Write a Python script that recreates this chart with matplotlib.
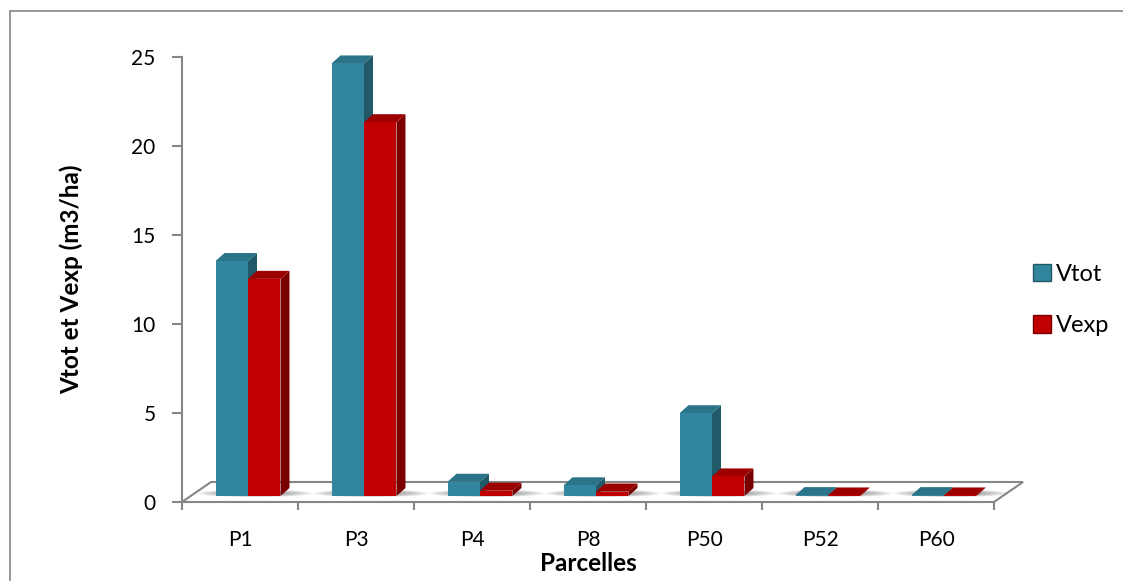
import matplotlib.pyplot as plt
from matplotlib.patches import Polygon, Rectangle, Ellipse

parcelles = ['P1', 'P3', 'P4', 'P8', 'P50', 'P52', 'P60']
vtot = [13.2, 24.3, 0.8, 0.6, 4.65, 0.05, 0.05]
vexp = [12.2, 21.0, 0.3, 0.25, 1.1, 0.03, 0.03]

plt.rcParams['font.family'] = ['Lato', 'DejaVu Sans']

W, H = 1123, 581
fig = plt.figure(figsize=(W / 100, H / 100), dpi=100)
ax = fig.add_axes([182 / W, (H - 502) / H, (994 - 182) / W, (502 - 57) / H])
n = len(parcelles)
ax.set_xlim(-0.5, n - 0.5)
ax.set_ylim(0, 25)

# pixel -> data unit conversion (the axes is linear)
px_x = n / (994 - 182)
px_y = 25 / (502 - 57)

grey = '#868686'

# floor of the 3d plot
fdx, fdy = 29 * px_x, 20 * px_y
floor = Polygon([(-0.5, 0), (n - 0.5, 0), (n - 0.5 + fdx, fdy), (-0.5 + fdx, fdy)],
                closed=True, facecolor='white', edgecolor=grey, lw=1.5, clip_on=False, zorder=1)
ax.add_patch(floor)

# bars: front face + side + top
bw = 0.28
sx, sy = 8 * px_x, 6 * px_y   # bars stand a bit inside the floor
dx, dy = 9 * px_x, 8 * px_y   # depth of a bar
series = [(vtot, -bw / 2, '#31859C', '#215968', '#2A7388'),
          (vexp, bw / 2, '#C00000', '#7A0000', '#9C0000')]

# soft shadows under each group
for i in range(n):
    for k in range(8):
        ax.add_patch(Ellipse((i + sx + 0.06, sy + 0.15), 0.98 - k * 0.09, 0.42 - k * 0.04,
                             facecolor='#6a6a6a', edgecolor='none', alpha=0.12,
                             clip_on=False, zorder=2))

for vals, off, front, side, top in series:
    for i, v in enumerate(vals):
        xl = i + off - bw / 2 + sx
        xr = xl + bw
        b = sy
        t = sy + v
        ax.add_patch(Polygon([(xr, b), (xr + dx, b + dy), (xr + dx, t + dy), (xr, t)],
                             closed=True, facecolor=side, edgecolor='none', clip_on=False, zorder=3))
        ax.add_patch(Polygon([(xl, t), (xr, t), (xr + dx, t + dy), (xl + dx, t + dy)],
                             closed=True, facecolor=top, edgecolor='none', clip_on=False, zorder=3))
        ax.add_patch(Rectangle((xl, b), bw, v, facecolor=front, edgecolor='none',
                               clip_on=False, zorder=4))

for s in ['top', 'right', 'bottom']:
    ax.spines[s].set_visible(False)
ax.spines['left'].set_color(grey)
ax.spines['left'].set_linewidth(1.5)

ax.set_yticks([0, 5, 10, 15, 20, 25])
ax.tick_params(axis='y', colors=grey, length=7, width=1.5, labelcolor='black',
               labelsize=15, pad=12)
ax.set_xticks(range(n))
ax.set_xticklabels(parcelles)
ax.set_xticks([i - 0.5 for i in range(n + 1)], minor=True)
ax.tick_params(axis='x', which='major', length=0, labelsize=15, pad=20)
ax.tick_params(axis='x', which='minor', length=6, width=1.5, colors=grey)
ax.set_facecolor('none')

ax.set_ylabel('Vtot et Vexp (m3/ha)', fontsize=17.5, fontweight='bold')
ax.yaxis.set_label_coords(-0.122, 0.5)
ax.set_xlabel('Parcelles', fontsize=17.5, fontweight='bold')
ax.xaxis.set_label_coords(0.5, -0.112)

# legend
h1 = Rectangle((0, 0), 1, 1, facecolor='#31859C', edgecolor='#215968')
h2 = Rectangle((0, 0), 1, 1, facecolor='#C00000', edgecolor='#7A0000')
fig.legend([h1, h2], ['Vtot', 'Vexp'], loc='center left',
           bbox_to_anchor=(1021 / W, 1 - 300 / H), frameon=False, fontsize=17,
           handlelength=0.75, handleheight=0.75, handletextpad=0.25, labelspacing=1.3,
           borderpad=0)

# chart border
fig.add_artist(Rectangle((10 / W, -0.1), 1.2, 1.1 - 11 / H, transform=fig.transFigure,
                         facecolor='none', edgecolor=grey, lw=1.2))

fig.savefig('out.png', dpi=100)
